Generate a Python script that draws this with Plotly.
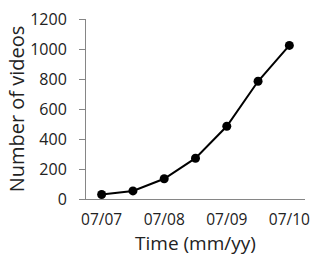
import plotly.graph_objects as go

categories = ["07/07", "01/08", "07/08", "01/09", "07/09", "01/10", "07/10"]
videos = [30, 54, 135, 272, 485, 785, 1024]
tick_labels = ["07/07", "", "07/08", "", "07/09", "", "07/10"]

fig = go.Figure()
fig.add_trace(go.Scatter(
    x=categories, y=videos, mode="lines+markers",
    line=dict(color="black", width=2),
    marker=dict(color="black", size=9),
    cliponaxis=False,
))

font = "Open Sans"
fig.update_layout(
    width=318, height=259,
    margin=dict(l=86, r=8, t=15, b=60),
    paper_bgcolor="white", plot_bgcolor="white",
    showlegend=False,
    font=dict(family=font, color="#222", size=16),
)
fig.update_xaxes(
    type="category", range=[-0.5, 6.5],
    tickvals=categories, ticktext=tick_labels,
    showline=True, linecolor="#868686", linewidth=1,
    showgrid=False, ticks="",
    ticklabelstandoff=6,
    tickfont=dict(size=15.5, family=font),
    title=dict(text="Time (mm/yy)", font=dict(size=19, family=font), standoff=0),
)
fig.update_yaxes(
    range=[0, 1200], dtick=200,
    showline=True, linecolor="#868686", linewidth=1,
    showgrid=False, ticks="outside", ticklen=6, tickcolor="#868686",
    ticklabelstandoff=9,
    zeroline=False,
    tickfont=dict(size=16, family=font),
    title=dict(text="Number of videos", font=dict(size=20, family=font), standoff=0),
)
fig.write_html("out.html", config={"displayModeBar": False},
               post_script="document.body.style.margin='0';document.body.style.overflow='hidden';")
